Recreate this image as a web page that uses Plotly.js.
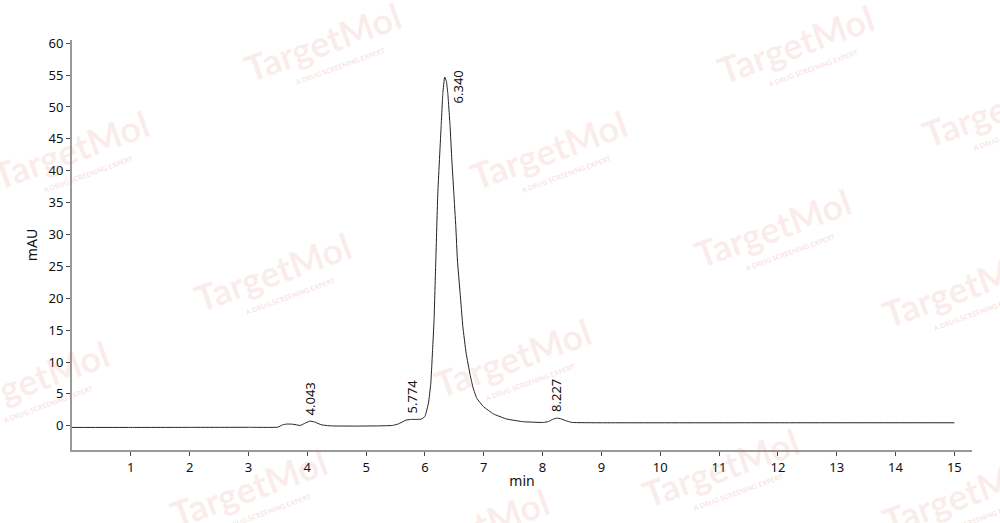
<!DOCTYPE html>
<html>
<head>
<meta charset="utf-8">
<script src="https://cdn.plot.ly/plotly-3.0.1.min.js"></script>
<style>html,body{margin:0;padding:0;background:#fff}#chart{width:1000px;height:523px}</style>
</head>
<body>
<div id="chart"></div>
<script>
// Retention time (min)
const time = [0, 1.0, 2.0, 3.0, 3.5, 3.58, 3.65, 3.75, 3.88, 3.95, 4.043, 4.12, 4.24, 4.4, 4.8, 5.2, 5.45, 5.55, 5.68, 5.774, 5.85, 5.94, 6.0, 6.06, 6.10, 6.13, 6.155, 6.185, 6.219, 6.275, 6.304, 6.335, 6.365, 6.389, 6.428, 6.457, 6.491, 6.525, 6.552, 6.598, 6.644, 6.700, 6.768, 6.82, 6.882, 6.995, 7.165, 7.392, 7.675, 8.015, 8.10, 8.17, 8.24, 8.31, 8.384, 8.498, 9.0, 12.0, 15.0];
// Absorbance (mAU)
const mAU = [-0.26, -0.26, -0.25, -0.24, -0.22, 0.15, 0.27, 0.25, 0.05, 0.35, 0.73, 0.6, 0.15, -0.02, -0.05, -0.02, 0.05, 0.3, 0.9, 1.0, 1.0, 1.05, 1.46, 3.55, 6.7, 11.9, 16.6, 26.0, 36.5, 46.9, 52.1, 54.7, 54.0, 52.1, 46.9, 41.7, 36.5, 31.2, 26.0, 20.8, 15.6, 11.4, 8.0, 5.9, 4.3, 3.0, 1.85, 1.05, 0.63, 0.52, 0.67, 1.0, 1.2, 1.1, 0.83, 0.52, 0.47, 0.47, 0.47];
// Peak labels
const peakTimes = [4.043, 5.774, 6.340, 8.227];
const peakHeights = [0.73, 0.94, 54.7, 1.3];
const peakLabels = ["4.043", "5.774", "6.340", "8.227"];
const xTicks = [1,2,3,4,5,6,7,8,9,10,11,12,13,14,15];

const font = "'Noto Sans', 'DejaVu Sans', sans-serif";

const annotations = [];

// Watermark positions in pixels (page coordinates)
const L = 72, T = 40, W = 900, H = 410;
const wm = [[322,42],[795,44],[70,150],[548,150],[1000,108],[272,272],[772,228],[960,288],[30,380],[512,358],[720,468],[248,488],[960,495],[470,528]];
wm.forEach(([px, py]) => {
  annotations.push({
    xref: 'paper', yref: 'paper', x: (px - L) / W, y: (T + H - py) / H,
    xanchor: 'center', yanchor: 'middle',
    text: 'TargetMol', showarrow: false, textangle: -20,
    font: {family: "Lato, 'Open Sans', sans-serif", size: 36, weight: 700, color: 'rgba(230,110,110,0.13)'}
  });
  annotations.push({
    xref: 'paper', yref: 'paper', x: (px + 18 - L) / W, y: (T + H - py - 24) / H,
    xanchor: 'center', yanchor: 'middle',
    text: 'A DRUG SCREENING EXPERT', showarrow: false, textangle: -20,
    font: {family: "Lato, 'Open Sans', sans-serif", size: 7, weight: 700, color: 'rgba(210,100,100,0.2)'}
  });
});

peakTimes.forEach((t, i) => {
  const main = i === 2;
  annotations.push({
    x: t, y: peakHeights[i], xref: 'x', yref: 'y',
    text: peakLabels[i], showarrow: false, textangle: -90,
    xanchor: main ? 'left' : 'center', yanchor: main ? 'top' : 'bottom',
    xshift: main ? 3 : 0, yshift: main ? 9 : 4,
    font: {family: font, size: 13, color: '#111'}
  });
});

const trace = {
  x: time, y: mAU, type: 'scatter', mode: 'lines',
  line: {color: '#222', width: 1, shape: 'spline', smoothing: 0.3},
  hoverinfo: 'none'
};

const layout = {
  width: 1000, height: 523,
  margin: {l: 72, r: 28, t: 40, b: 73},
  paper_bgcolor: '#fff', plot_bgcolor: '#fff',
  showlegend: false,
  font: {family: font, size: 13, color: '#111'},
  xaxis: {
    range: [0, 15.3], tickvals: xTicks, ticktext: xTicks.map(String),
    showline: true, linecolor: '#999', linewidth: 2,
    ticks: 'outside', ticklen: 4, tickcolor: '#444', tickwidth: 1,
    showgrid: false, zeroline: false,
    title: {text: 'min', font: {family: font, size: 14}, standoff: 2}
  },
  yaxis: {
    range: [-3.8, 60.5], dtick: 5, tick0: 0,
    showline: true, linecolor: '#999', linewidth: 2,
    ticks: 'outside', ticklen: 4, tickcolor: '#444', tickwidth: 1,
    showgrid: false, zeroline: false,
    title: {text: 'mAU', font: {family: font, size: 14}, standoff: 8}
  },
  annotations: annotations
};

Plotly.newPlot('chart', [trace], layout, {displayModeBar: false, staticPlot: true});
</script>
</body>
</html>
